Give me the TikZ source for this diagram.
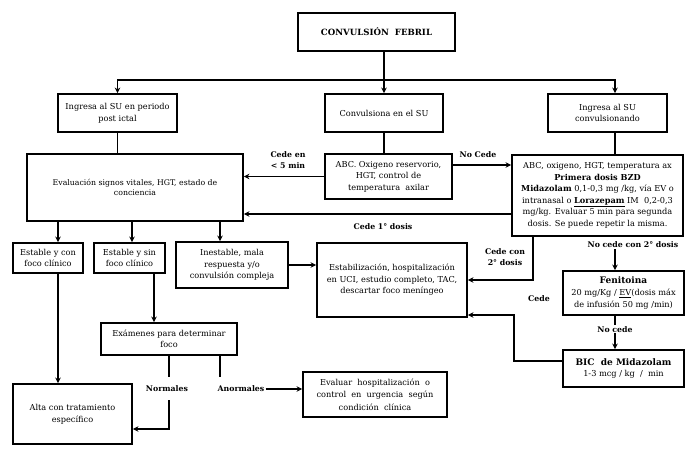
\documentclass[tikz,border=0pt]{standalone}
\usepackage{fontspec}
\setmainfont{DejaVu Serif}
\usetikzlibrary{arrows.meta}
\begin{document}
\begin{tikzpicture}[x=1pt,y=-1pt,
 box/.style={draw, line width=1.9pt, align=center, inner sep=1pt, font=\fontsize{8.2}{11.5}\selectfont},
 lbl/.style={font=\bfseries\fontsize{7.8}{11}\selectfont, align=center, inner sep=1pt},
 conn/.style={line width=1.5pt},
 arr/.style={conn, -{Stealth[length=5.5pt,width=5.5pt]}}]
\useasboundingbox (0,0) rectangle (690,450);
% boxes
\node[box, minimum width=157, minimum height=38, font=\bfseries\fontsize{8.6}{10}\selectfont] (title) at (376.5,32) {CONVULSIÓN\ \ FEBRIL};
\node[box, minimum width=119, minimum height=38] (A) at (117.5,113) {Ingresa al SU en periodo\\post ictal};
\node[box, minimum width=118, minimum height=38] (B) at (384,113) {Convulsiona en el SU};
\node[box, minimum width=119, minimum height=38] (C) at (607.5,113) {Ingresa al SU\\convulsionando};
\node[box, minimum width=216, minimum height=67, font=\fontsize{7.8}{10}\selectfont] (ev) at (135,187.5) {Evaluación signos vitales, HGT, estado de\\conciencia};
\node[box, minimum width=127, minimum height=45] (abc) at (388.5,176.5) {ABC. Oxigeno reservorio,\\HGT, control de\\temperatura\ \ axilar};
\node[box, minimum width=171, minimum height=81] (prim) at (597.5,195.5) {ABC, oxigeno, HGT, temperatura ax\\\textbf{Primera dosis BZD}\\\textbf{Midazolam} 0,1-0,3 mg /kg, vía EV o\\intranasal o \underline{\textbf{Lorazepam}} IM\ \ 0,2-0,3\\mg/kg. Evaluar 5 min para segunda\\dosis. Se puede repetir la misma.};
\node[box, minimum width=70, minimum height=30] (D) at (48,258) {Estable y con\\foco clínico};
\node[box, minimum width=71, minimum height=30] (E) at (129.5,258) {Estable y sin\\foco clínico};
\node[box, minimum width=112, minimum height=46] (F) at (232,265) {Inestable, mala\\respuesta y/o\\convulsión compleja};
\node[box, minimum width=150, minimum height=74] (estab) at (392,280) {Estabilización, hospitalización\\en UCI, estudio completo, TAC,\\descartar foco meníngeo};
\node[box, minimum width=121, minimum height=44, font=\fontsize{8.2}{12}\selectfont] (fen) at (623.5,293) {{\bfseries\fontsize{9}{12}\selectfont Fenitoina}\\20 mg/Kg / \underline{EV}(dosis máx\\de infusión 50 mg /min)};
\node[box, minimum width=121, minimum height=37, font=\fontsize{8.2}{11}\selectfont] (bic) at (623.5,368.5) {{\bfseries\fontsize{9}{11}\selectfont BIC\ \ de Midazolam}\\1-3 mcg / kg\ \ /\ \ min};
\node[box, minimum width=136, minimum height=32] (exam) at (169,339) {Exámenes para determinar\\foco};
\node[box, minimum width=119, minimum height=60] (alta) at (72.5,414) {Alta con tratamiento\\específico};
\node[box, minimum width=144, minimum height=45, font=\fontsize{8.2}{12.5}\selectfont] (eval2) at (375,394.5) {Evaluar\ \ hospitalización\ \ o\\control\ \ en\ \ urgencia\ \ según\\condición\ \ clínica};
% labels
\node[lbl] (l1) at (288,160) {Cede en\\< 5 min};
\node[lbl] (l2) at (478,155) {No Cede};
\node[lbl] (l3) at (383,227) {Cede 1° dosis};
\node[lbl] (l4) at (505,257) {Cede con\\2° dosis};
\node[lbl] (nc2) at (633,245) {No cede con 2° dosis};
\node[lbl] (l6) at (539,299) {Cede};
\node[lbl] (nor) at (167,389) {Normales};
\node[lbl] (anor) at (241,389) {Anormales};
% coordinates
\coordinate (j) at (384,80);
\coordinate (xC) at (615,0);
\coordinate (r1) at (0,165);
\coordinate (r2) at (0,214);
\coordinate (xd) at (58,0);
\coordinate (xe) at (132,0);
\coordinate (xF) at (220,0);
\coordinate (xp) at (533,0);
\coordinate (xf) at (615,0);
\coordinate (xb) at (514,0);
\coordinate (r4) at (0,315);
\coordinate (r5) at (0,361);
\coordinate (xe2) at (154,0);
\coordinate (xn) at (169,0);
\coordinate (xa) at (220,0);
\coordinate (yn1) at (0,377);
\coordinate (yn2) at (0,400);
\coordinate (yn3) at (0,429);
% connectors
\draw[conn] (title.south -| j) -- (j);
\draw[arr] (j) -| (A.north);
\draw[arr] (j) -| (C.north -| xC);
\draw[arr] (j) -- (B.north);
\draw[conn] (A.south) -- (A.south |- ev.north);
\draw[conn] (B.south) -- (B.south |- abc.north);
\draw[conn] (C.south -| xC) -- (prim.north -| xC);
\draw[arr] (abc.west) -- (abc.west -| ev.east);
\draw[arr] (abc.east |- r1) -- (prim.west |- r1);
\draw[arr] (prim.west |- r2) -- (ev.east |- r2);
\draw[arr] (ev.south -| xd) -- (D.north -| xd);
\draw[arr] (ev.south -| xe) -- (E.north -| xe);
\draw[arr] (ev.south -| xF) -- (F.north -| xF);
\draw[arr] (F.east) -- (F.east -| estab.west);
\draw[arr] (prim.south -| xp) |- (estab.east);
\draw[arr] (nc2.south -| xf) -- (fen.north -| xf);
\draw[arr] (fen.south -| xf) -- node[lbl, fill=white, pos=0.4] (l5) {No cede} (bic.north -| xf);
\draw[arr] (bic.west |- r5) -| (xb |- r4) -- (estab.east |- r4);
\draw[arr] (E.south -| xe2) -- (exam.north -| xe2);
\draw[arr] (D.south -| xd) -- (alta.north -| xd);
\draw[conn] (exam.south -| xn) -- (xn |- yn1);
\draw[arr] (xn |- yn2) |- (alta.east |- yn3);
\draw[conn] (exam.south -| xa) -- (xa |- yn1);
\draw[arr] (anor.east) -- (anor.east -| eval2.west);
\end{tikzpicture}
\end{document}
